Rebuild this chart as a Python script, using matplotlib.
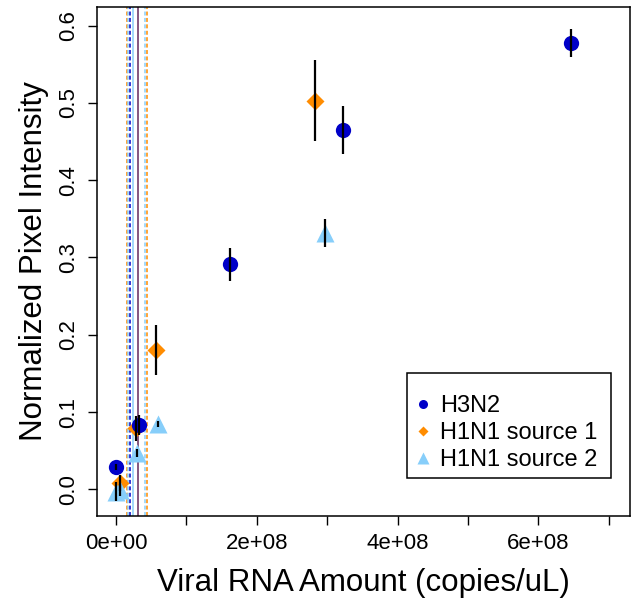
import matplotlib
matplotlib.use("Agg")
import matplotlib.pyplot as plt
from matplotlib.patches import Rectangle
from matplotlib.lines import Line2D
import numpy as np

plt.rcParams['font.family'] = ['Liberation Sans', 'DejaVu Sans']

# ---- data ----
h3_x = [6.46e8, 3.23e8, 1.615e8, 0.32e8, 0.0]
h3_y = [0.578, 0.465, 0.291, 0.083, 0.029]
h3_err = [0.018, 0.031, 0.021, 0.013, 0.004]

s1_x = [2.82e8, 0.57e8, 0.28e8, 0.056e8]
s1_y = [0.503, 0.180, 0.079, 0.008]
s1_err = [0.052, 0.032, 0.016, 0.010]

s2_x = [2.97e8, 0.60e8, 0.297e8, 0.06e8, 0.0]
s2_y = [0.332, 0.085, 0.047, -0.001, -0.003]
s2_err = [0.018, 0.004, 0.005, 0.008, 0.012]

# detection-limit lines (solid = estimate, dashed = bounds)
lod_solid_x = [0.31e8, 0.31e8, 0.247e8]
lod_solid_series = ['H3N2', 'H1N1 source 1', 'H1N1 source 2']
lod_dash_x = [0.153e8, 0.176e8, 0.193e8, 0.413e8, 0.44e8]
lod_dash_series = ['H1N1 source 1', 'H1N1 source 2', 'H3N2', 'H1N1 source 2', 'H1N1 source 1']

series_names = ['H3N2', 'H1N1 source 1', 'H1N1 source 2']
xticks = [0, 1e8, 2e8, 3e8, 4e8, 5e8, 6e8, 7e8]
xticklabels = ['0e+00', '', '2e+08', '', '4e+08', '', '6e+08', '']
yticks = [0.0, 0.1, 0.2, 0.3, 0.4, 0.5, 0.6]

colors = {'H3N2': '#0000C8', 'H1N1 source 1': '#FF8C00', 'H1N1 source 2': '#87CEFA'}
alphas = {'H3N2': 1.0, 'H1N1 source 1': 0.5, 'H1N1 source 2': 1.0}

W, H = 632, 598
fig = plt.figure(figsize=(W/100, H/100), dpi=100)
AX_L, AX_R, AX_T, AX_B = 96.7, 630, 6.7, 516
ax = fig.add_axes([AX_L/W, 1-AX_B/H, (AX_R-AX_L)/W, (AX_B-AX_T)/H])

def ax_fx(px):
    return (px - AX_L) / (AX_R - AX_L)

def ax_fy(py):
    return (AX_B - py) / (AX_B - AX_T)

# vertical lines
for xv, s in zip(lod_dash_x, lod_dash_series):
    ax.axvline(xv, color=colors[s], lw=1.1, ls=(0, (2.6, 1.6)), zorder=1)
for xv, s in zip(lod_solid_x, lod_solid_series):
    ax.axvline(xv, color=colors[s], lw=1.1, alpha=alphas[s], zorder=1)

# points
ax.plot(s1_x, s1_y, 'D', color=colors['H1N1 source 1'], ms=9.5, mec='none', zorder=3)
ax.plot(s2_x, s2_y, '^', color=colors['H1N1 source 2'], ms=13.5, mec='none', zorder=4)
ax.plot(h3_x, h3_y, 'o', color=colors['H3N2'], ms=11, mec='none', zorder=5)

# error bars
for xs, ys, es in [(h3_x, h3_y, h3_err), (s1_x, s1_y, s1_err), (s2_x, s2_y, s2_err)]:
    xs = np.array(xs); ys = np.array(ys); es = np.array(es)
    ax.vlines(xs, ys - es, ys + es, color='black', lw=1.6, zorder=6)

ax.set_xlim(-0.275e8, 7.30e8)
ax.set_ylim(-0.0346, 0.6246)

ax.set_xticks(xticks)
ax.set_xticklabels(xticklabels, fontsize=16)
ax.set_yticks(yticks)
ax.set_yticklabels([f'{v:.1f}' for v in yticks], fontsize=16, rotation=90, va='center')
ax.tick_params(direction='out', length=6.5, width=1.0, pad=6)
for sp in ax.spines.values():
    sp.set_linewidth(1.1)

ax.set_xlabel('Viral RNA Amount (copies/uL)', fontsize=22.5, labelpad=9.5)
ax.set_ylabel('Normalized Pixel Intensity', fontsize=22.5, labelpad=7)

# legend
handles = [
    Line2D([], [], marker='o', ls='none', color=colors['H3N2'], ms=6.5, mec='none'),
    Line2D([], [], marker='D', ls='none', color=colors['H1N1 source 1'], ms=5.5, mec='none'),
    Line2D([], [], marker='^', ls='none', color=colors['H1N1 source 2'], ms=8, mec='none'),
]
leg = ax.legend(handles, series_names, loc='upper left',
                bbox_to_anchor=(ax_fx(413.9), ax_fy(395)),
                frameon=False, fontsize=17, borderpad=0, borderaxespad=0,
                handlelength=0.8, handletextpad=0.3, labelspacing=0.21)
ax.add_patch(Rectangle((ax_fx(406.7), ax_fy(478)),
                       ax_fx(610.7) - ax_fx(406.7), ax_fy(373.3) - ax_fy(478),
                       transform=ax.transAxes, fill=False, ec='black', lw=1.1,
                       zorder=7, clip_on=False))

fig.savefig('out.png', dpi=100)
